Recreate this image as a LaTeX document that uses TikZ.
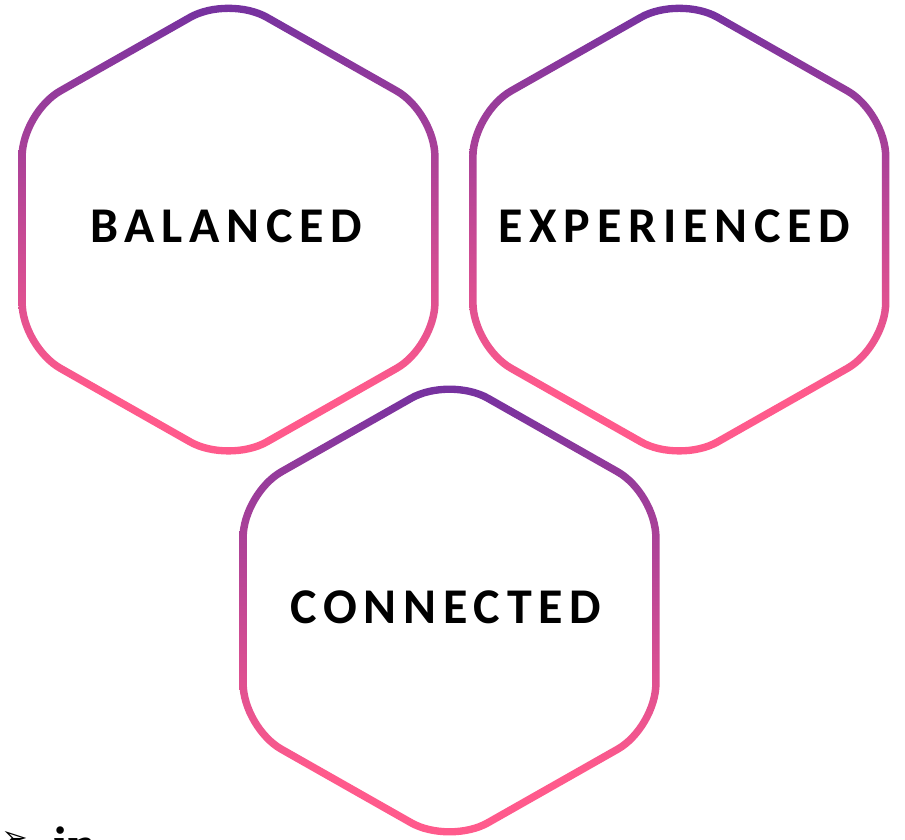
\documentclass[tikz,border=0pt]{standalone}
\usepackage{fontspec}
\setmainfont{Carlito}
\newfontfamily\labelfont[LetterSpace=13.5]{Carlito}
\newfontfamily\bulletfont{DejaVu Sans}
\newfontfamily\cutfont{Liberation Serif}
\definecolor{hexpurple}{HTML}{7030A0}
\definecolor{hexpink}{HTML}{FF5A8C}
\pgfdeclareverticalshading{hexgrad}{100bp}{color(0bp)=(hexpink); color(25bp)=(hexpink); color(33bp)=(hexpink); color(75bp)=(hexpurple); color(100bp)=(hexpurple)}
\tikzset{
  hexlabel/.style={font=\labelfont\bfseries\fontsize{50}{60}\selectfont, text=black, inner sep=0pt, anchor=base},
  ring/.style={shading=hexgrad, even odd rule},
}
\begin{document}
\begin{tikzpicture}[x=1pt,y=-1pt]
\useasboundingbox (0,0) rectangle (905,839);
\clip (0,0) rectangle (905,839);
\fill[white] (0,0) rectangle (905,839);
% rounded hexagon rings (outer contour + inner contour, even-odd filled with a vertical gradient)
\foreach \cx/\cy in {228.5/229.6, 679.3/229.6, 449.5/610.5}{
  \begin{scope}[shift={(\cx,\cy)}]
    \shade[ring]
      [rounded corners=46.2] (210.15,0) -- (210.15,119.16) -- (0,238.3) -- (-210.15,119.16)
        -- (-210.15,-119.16) -- (0,-238.3) -- (210.15,-119.16) -- cycle
      [rounded corners=41.8] (202.65,0) -- (202.65,114.84) -- (0,229.7) -- (-202.65,114.84)
        -- (-202.65,-114.84) -- (0,-229.7) -- (202.65,-114.84) -- cycle;
  \end{scope}
}
\node[hexlabel] (balanced) at (226.5,242) {BALANCED};
\node[hexlabel] (experienced) at (674,242) {EXPERIENCED};
\node[hexlabel] (connected) at (446,623.5) {CONNECTED};
% text cut off by the lower edge
\node[font=\bulletfont\fontsize{32}{40}\selectfont, inner sep=0pt, anchor=north west] (bullet) at (1,831.5) {➢};
\node[font=\cutfont\bfseries\fontsize{50}{60}\selectfont, inner sep=0pt, anchor=base west] (cut) at (53,861) {in};
\end{tikzpicture}
\end{document}
